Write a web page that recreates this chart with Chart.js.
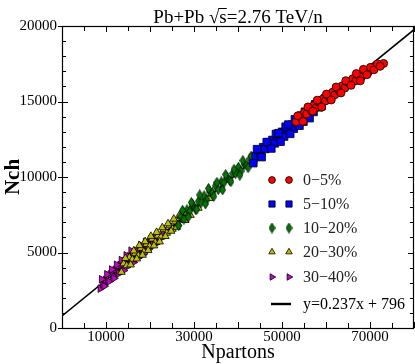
<!DOCTYPE html>
<html lang="en">
<head>
  <meta charset="UTF-8">
  <title>Nch vs Npartons</title>
  <script src="https://cdn.jsdelivr.net/npm/chart.js"></script>
  <style>
    html, body { margin: 0; padding: 0; background: #fff; overflow: hidden; }
    /* a little wider than the window so the frame runs to the right edge */
    .chart-box { width: 420px; height: 364px; }
  </style>
</head>
<body>
  <div class="chart-box"><canvas id="myChart"></canvas></div>

  <script>
    // centrality classes
    const centralities = ["0\u22125%", "5\u221210%", "10\u221220%", "20\u221230%", "30\u221240%"];

    const redX = [53200, 53900, 54500, 55100, 55600, 56200, 56700, 57200, 57800, 58300, 58800, 59300, 59900, 60400, 60900, 61500,
                  62000, 62600, 63100, 63700, 64300, 64900, 65500, 66100, 66800, 67400, 68100, 68900, 69600, 70400, 71200, 73100,
                  53600, 54800, 55900, 57000, 58000, 59000, 60100, 61200, 62300, 63400, 64500, 65700, 66900, 67800, 68500, 69300,
                  70100, 70900, 71700, 72300];
    const redY = [13650, 14070, 13860, 14280, 14170, 14600, 14380, 14730, 14600, 14960, 14850, 15170, 15040, 15410, 15230, 15620,
                  15440, 15830, 15650, 16040, 15890, 16280, 16120, 16510, 16380, 16720, 16640, 17030, 16940, 17230, 17270, 17520,
                  14050, 13680, 14640, 14360, 15090, 14630, 15490, 15100, 15960, 15570, 16380, 16070, 16850, 16370, 17130, 16770,
                  17260, 17100, 17490, 17330];

    const blueX = [44000, 44600, 45100, 45700, 46200, 46800, 47300, 47800, 48400, 48900, 49500, 50000, 50500, 51100,
                   51600, 52200, 52700, 53300, 53800, 54400, 54900, 55500, 56000, 56600, 57200, 57800, 58500, 59400,
                   43500, 44300, 45400, 46500, 47600, 48600, 49700, 50800, 51900, 52900, 54000, 55200, 56300, 57500,
                   58200, 59000, 59800, 49200, 51400, 53600];
    const blueY = [11370, 11770, 11540, 11980, 11850, 12310, 12160, 12460, 12220, 12690, 12630, 13000, 12670, 13160,
                   13080, 13470, 13190, 13630, 13500, 13940, 13660, 14100, 13970, 14410, 14300, 14650, 14610, 15070,
                   10910, 11850, 11310, 12320, 11880, 12860, 12330, 13340, 12850, 13830, 13390, 14330, 13890, 14820,
                   14940, 14680, 15220, 12910, 13480, 13950];

    const greenX = [27000, 27700, 28400, 29000, 29700, 30300, 31000, 31600, 32300, 32900, 33600, 34200, 34900, 35500, 36200,
                    36800, 37500, 38100, 38800, 39400, 40100, 40700, 41400, 42000, 42700, 43300, 44100, 45000, 46000, 47200,
                    26500, 27400, 28700, 29400, 30600, 31300, 32600, 33300, 34500, 35200, 36500, 37200, 38400, 39100,
                    40400, 41100, 42300, 43000, 43800, 44600, 45500, 46600];
    const greenY = [7400, 7210, 7830, 7720, 8190, 7880, 8390, 8290, 8750, 8490, 9010, 8950, 9420, 9160, 9680,
                    9620, 9980, 9780, 10240, 10230, 10650, 10390, 10860, 10800, 11220, 11010, 11450, 11510, 11950, 12080,
                    6780, 7790, 7350, 8310, 7850, 8810, 8220, 9240, 8720, 9640, 9150, 10160, 9700, 10510,
                    10120, 11090, 10620, 11390, 11030, 11770, 11480, 12190];

    const yellowX = [14000, 14700, 15300, 16000, 16600, 17300, 17900, 18600, 19200, 19900, 20500, 21200, 21800, 22500,
                     23100, 23800, 24400, 25100, 25700, 26400, 27000, 27700, 28400, 29200, 30000, 31000, 32200, 33500,
                     13500, 14400, 15600, 16300, 17000, 17600, 18300, 18900, 19600, 20200, 20900, 21500, 22200, 22800,
                     23500, 24100, 24800, 25400, 26100, 26700, 28000, 29600];
    const yellowY = [4260, 4130, 4670, 4540, 4930, 4800, 5290, 5050, 5550, 5410, 5900, 5670, 6110, 6030,
                     6520, 6290, 6780, 6550, 7040, 6900, 7400, 7160, 7630, 7470, 7960, 7940, 8380, 8590,
                     3700, 4610, 4190, 5110, 4580, 5470, 4830, 5730, 5140, 6080, 5450, 6340, 5710, 6650,
                     6070, 6910, 6420, 7220, 6680, 7470, 7130, 8060];

    const magentaX = [8700, 9300, 9900, 10400, 11000, 11500, 12100, 12600, 13200, 13700, 14300, 14800, 15400,
                      15900, 16500, 17000, 17600, 18100, 18700, 19300, 19900, 20600, 21300, 22100, 23000, 24000,
                      9000, 9600, 10200, 10700, 11300, 11800, 12400, 12900, 13500, 14000, 14600, 15100, 15700,
                      16200, 16800, 17300, 17900, 18400, 19000, 19600, 20300, 21700];
    const magentaY = [2610, 2900, 3190, 3110, 3550, 3470, 3860, 3730, 4170, 4040, 4440, 4250, 4750,
                      4610, 5010, 4830, 5220, 4990, 5430, 5320, 5660, 5580, 5940, 5880, 6250, 6330,
                      3230, 2770, 3560, 3080, 3870, 3290, 4190, 3600, 4500, 3810, 4810, 4120, 5120,
                      4340, 5130, 4650, 5490, 4860, 5700, 5190, 5910, 5640];

    // linear fit shown in legend
    const fitLabel = "y=0.237x + 796";
    const fitX = [0, 80000];
    const fitY = [796, 19756];

    const xTickLabels = [10000, 30000, 50000, 70000];
    const yTickLabels = [0, 5000, 10000, 15000, 20000];

    const serif = "'Liberation Serif', 'DejaVu Serif', serif";

    function toPoints(xs, ys) {
      return xs.map((x, i) => ({ x: x, y: ys[i] }));
    }

    // thin diamond marker for 10-20%
    function makeDiamond(fill) {
      const c = document.createElement("canvas");
      c.width = 7;
      c.height = 11;
      const g = c.getContext("2d");
      g.beginPath();
      g.moveTo(3.5, 0.5);
      g.lineTo(6.5, 5.5);
      g.lineTo(3.5, 10.5);
      g.lineTo(0.5, 5.5);
      g.closePath();
      g.fillStyle = fill;
      g.fill();
      g.strokeStyle = "#000";
      g.lineWidth = 0.8;
      g.stroke();
      return c;
    }

    const markers = [
      { color: "#ff0000", pointStyle: "circle", radius: 4, rotation: 0 },
      { color: "#0000ff", pointStyle: "rect", radius: 5.2, rotation: 0 },
      { color: "#007800", pointStyle: makeDiamond("#007800"), radius: 4, rotation: 0 },
      { color: "#bebe00", pointStyle: "triangle", radius: 4.4, rotation: 0 },
      { color: "#cc00cc", pointStyle: "triangle", radius: 4.4, rotation: 90 }
    ];

    const seriesData = [
      toPoints(redX, redY),
      toPoints(blueX, blueY),
      toPoints(greenX, greenY),
      toPoints(yellowX, yellowY),
      toPoints(magentaX, magentaY)
    ];

    const datasets = seriesData.map((pts, i) => ({
      type: "scatter",
      label: centralities[i],
      data: pts,
      pointStyle: markers[i].pointStyle,
      pointRadius: markers[i].radius,
      pointRotation: markers[i].rotation,
      backgroundColor: markers[i].color,
      borderColor: "#000",
      borderWidth: 0.8,
      order: 1
    }));

    datasets.push({
      type: "line",
      label: fitLabel,
      data: toPoints(fitX, fitY),
      borderColor: "#000",
      borderWidth: 1.6,
      pointRadius: 0,
      fill: false,
      order: 2
    });

    // frame, inward ticks, title, axis titles and the two-marker legend
    const decorations = {
      id: "decorations",
      afterDraw(chart) {
        const ctx = chart.ctx;
        const a = chart.chartArea;
        const xs = chart.scales.x;
        const ys = chart.scales.y;
        ctx.save();

        // ticks
        ctx.strokeStyle = "#000";
        ctx.lineWidth = 1;
        ctx.beginPath();
        for (let v = 0; v <= 80000; v += 5000) {
          const px = Math.round(xs.getPixelForValue(v)) + 0.5;
          const len = v % 10000 === 0 ? 6 : 5;
          ctx.moveTo(px, a.bottom); ctx.lineTo(px, a.bottom - len);
          ctx.moveTo(px, a.top); ctx.lineTo(px, a.top + len);
        }
        for (let v = 0; v <= 20000; v += 1000) {
          const py = Math.round(ys.getPixelForValue(v)) + 0.5;
          if (v % 5000 === 0) {
            ctx.moveTo(a.left - 4, py); ctx.lineTo(a.left + 6, py);
            ctx.moveTo(a.right - 6, py); ctx.lineTo(a.right, py);
          } else {
            ctx.moveTo(a.left, py); ctx.lineTo(a.left + 4, py);
            ctx.moveTo(a.right - 4, py); ctx.lineTo(a.right, py);
          }
        }
        ctx.stroke();

        // frame
        ctx.strokeStyle = "#000";
        ctx.lineWidth = 1.2;
        ctx.strokeRect(a.left + 0.5, a.top + 0.5, a.right - a.left - 1, a.bottom - a.top);

        // title with overline on s, centred on the plot
        ctx.fillStyle = "#000";
        ctx.font = "19px " + serif;
        ctx.textBaseline = "alphabetic";
        ctx.textAlign = "left";
        const parts = ["Pb+Pb ", "\u221A", "s", "=2.76 TeV/n"];
        const widths = parts.map(p => ctx.measureText(p).width);
        const total = widths.reduce((s, w) => s + w, 0);
        let tx = (a.left + a.right) / 2 - total / 2;
        const base = 23;
        parts.forEach((p, i) => {
          ctx.fillText(p, tx, base);
          if (i === 2) {
            ctx.beginPath();
            ctx.lineWidth = 1;
            ctx.moveTo(tx - 1, base - 14.5);
            ctx.lineTo(tx + widths[i], base - 14.5);
            ctx.stroke();
          }
          tx += widths[i];
        });

        // axis titles
        ctx.textAlign = "center";
        ctx.textBaseline = "middle";
        ctx.font = "20px " + serif;
        ctx.fillText("Npartons", (a.left + a.right) / 2, 353);
        ctx.save();
        ctx.translate(14, (a.top + a.bottom) / 2);
        ctx.rotate(-Math.PI / 2);
        ctx.font = "bold 21px " + serif;
        ctx.fillText("Nch", 0, 0);
        ctx.restore();

        // legend
        const rowsY = [180, 204, 228, 252, 277, 304];
        ctx.textAlign = "left";
        ctx.textBaseline = "middle";
        ctx.font = "16px " + serif;
        markers.forEach((m, i) => {
          const opts = { pointStyle: m.pointStyle, radius: m.radius * 0.85, rotation: m.rotation, borderWidth: 0.8 };
          [272, 289].forEach(lx => {
            ctx.fillStyle = m.color;
            ctx.strokeStyle = "#000";
            ctx.lineWidth = 0.8;
            Chart.helpers.drawPoint(ctx, opts, lx, rowsY[i]);
          });
          ctx.fillStyle = "#222";
          ctx.fillText(centralities[i], 303, rowsY[i] + 1);
        });
        ctx.strokeStyle = "#000";
        ctx.lineWidth = 2.4;
        ctx.beginPath();
        ctx.moveTo(271, rowsY[5]);
        ctx.lineTo(291, rowsY[5]);
        ctx.stroke();
        ctx.fillStyle = "#000";
        ctx.fillText(fitLabel, 303, rowsY[5] + 1);

        ctx.restore();
      }
    };

    new Chart(document.getElementById("myChart"), {
      data: { datasets: datasets },
      options: {
        responsive: true,
        maintainAspectRatio: false,
        animation: false,
        layout: { padding: { top: 26, right: 0, left: 0, bottom: 0 } },
        plugins: {
          legend: { display: false },
          tooltip: { enabled: false }
        },
        scales: {
          x: {
            type: "linear",
            min: 0,
            max: 80000,
            grid: { display: false, drawTicks: false },
            border: { display: false },
            ticks: {
              stepSize: 5000,
              autoSkip: false,
              maxRotation: 0,
              padding: 0,
              color: "#000",
              font: { family: serif, size: 15 },
              callback: v => xTickLabels.includes(v) ? String(v) : ""
            },
            afterFit: s => { s.height = 36; }
          },
          y: {
            type: "linear",
            min: 0,
            max: 20000,
            grid: { display: false, drawTicks: false },
            border: { display: false },
            ticks: {
              stepSize: 1000,
              autoSkip: false,
              padding: 5,
              color: "#000",
              font: { family: serif, size: 15 },
              callback: v => yTickLabels.includes(v) ? String(v) : ""
            },
            afterFit: s => { s.width = 62; }
          }
        }
      },
      plugins: [decorations]
    });
  </script>
</body>
</html>
